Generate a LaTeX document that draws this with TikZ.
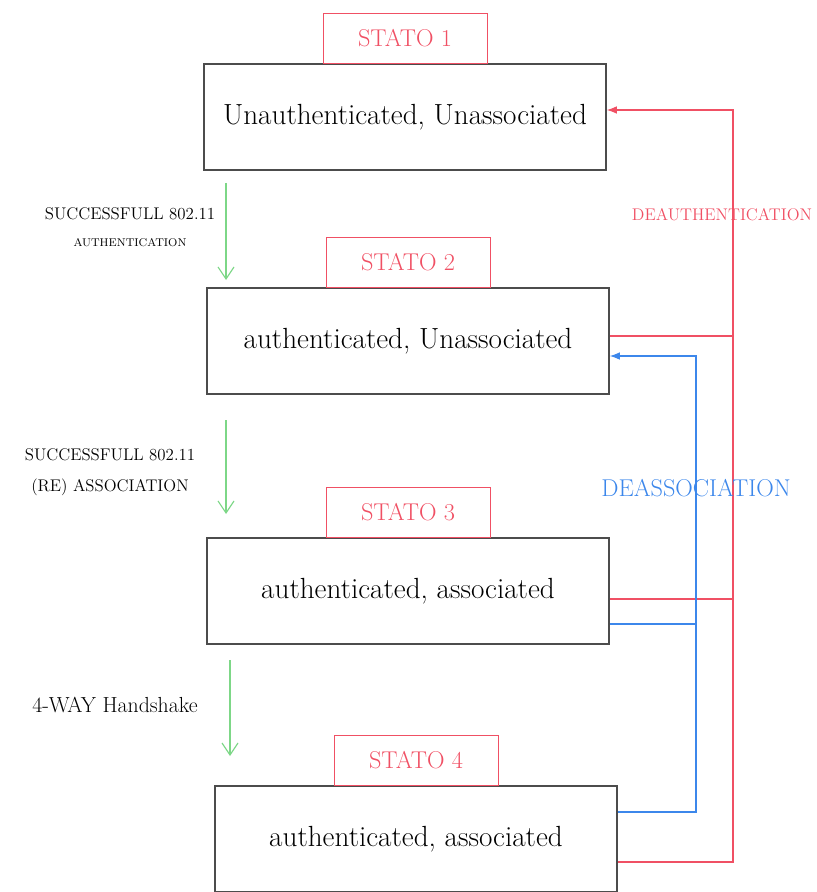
\documentclass[tikz,border=0pt]{standalone}
\usepackage{amsmath}
\usepackage{tikz}
\usetikzlibrary{arrows.meta,positioning}
\definecolor{deauthred}{RGB}{240,80,100}
\definecolor{deassocblue}{RGB}{60,135,235}
\definecolor{movegreen}{RGB}{125,215,135}

\begin{document}
\begin{tikzpicture}[x=0.025cm, y=-0.025cm,
    state/.style = {draw=black!70, line width=1pt, minimum width=10.05cm, minimum height=2.65cm, font=\huge},
    tag/.style = {draw=deauthred, thin, text=deauthred, minimum width=4.1cm, minimum height=1.25cm, font=\LARGE},
    move/.style = {draw=movegreen, line width=0.8pt, -{Straight Barb[length=3mm, width=4mm]}},
    deauth/.style = {draw=deauthred, line width=0.8pt},
    deassoc/.style = {draw=deassocblue, line width=0.8pt}]

        \useasboundingbox (0,0) rectangle (816,892);

        \node[state] (b1) at (405,117) {Unauthenticated, Unassociated};
        \node[state] (b2) at (408,341) {authenticated, Unassociated};
        \node[state] (b3) at (408,591) {authenticated, associated};
        \node[state] (b4) at (416,839) {authenticated, associated};

        \node[tag] (s1) [above=0pt of b1] {STATO 1};
        \node[tag] (s2) [above=0pt of b2] {STATO 2};
        \node[tag] (s3) [above=0pt of b3] {STATO 3};
        \node[tag] (s4) [above=0pt of b4] {STATO 4};

        %\draw  node[fill,circle,scale=0.3]{} (85,28);

        \coordinate (g1a) at (226,183);
        \coordinate (g1b) at (226,280);
        \coordinate (g2a) at (226,420);
        \coordinate (g2b) at (226,514);
        \coordinate (g3a) at (230,660);
        \coordinate (g3b) at (230,756);

        \draw[move] (g1a) -- (g1b);
        \draw[move] (g2a) -- (g2b);
        \draw[move] (g3a) -- (g3b);

        \node[align=center] (l1) at (130,227) {\large SUCCESSFULL 802.11\\[7pt]\footnotesize AUTHENTICATION};
        \node[align=center] (l2) at (110,472) {\large SUCCESSFULL 802.11\\[10pt]\large (RE) ASSOCIATION};
        \node (l3) at (115,705) {\fontsize{15.5}{18}\selectfont 4-WAY Handshake};

        \coordinate (rbus) at (733,480);
        \coordinate (bbus) at (696,480);

        \draw[deauth, -{Latex[length=2.5mm]}] ([yshift=-0.575cm]b4.east) -| (rbus) |- ([yshift=0.175cm]b1.east);
        \draw[deauth] ([yshift=0.125cm]b2.east) -- ([yshift=0.125cm]b2.east -| rbus);
        \draw[deauth] ([yshift=-0.2cm]b3.east) -- ([yshift=-0.2cm]b3.east -| rbus);

        \draw[deassoc, -{Latex[length=2.5mm]}] ([yshift=0.675cm]b4.east) -| (bbus) |- ([yshift=-0.375cm]b2.east);
        \draw[deassoc] ([yshift=-0.825cm]b3.east) -- ([yshift=-0.825cm]b3.east -| bbus);

        \node[text=deauthred] (deauthlbl) at (722,215) {\large DEAUTHENTICATION};
        \node[text=deassocblue] (deassoclbl) at (696,488) {\LARGE DEASSOCIATION};

\end{tikzpicture}
\end{document}
